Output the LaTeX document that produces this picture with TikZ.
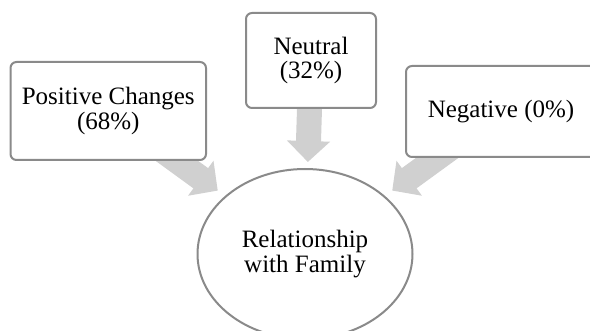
\documentclass[tikz,border=0pt]{standalone}
\usepackage{fontspec}
\setmainfont{Liberation Serif}
\usepackage{tikz}
\usetikzlibrary{arrows.meta,shapes.geometric,backgrounds}
\definecolor{RGray}{HTML}{8A8A8A}
\definecolor{RArrow}{HTML}{D0D0D0}

\begin{document}
\begin{tikzpicture}[
  x=1pt,y=-1pt,
  box/.style={draw=RGray,line width=2pt,rounded corners=6pt,fill=white,
    align=center,inner sep=0pt,font=\fontsize{25}{24.5}\selectfont},
  oval/.style={ellipse,draw=RGray,line width=2pt,fill=white,
    minimum width=215pt,minimum height=170pt,inner sep=0pt,
    align=center,font=\fontsize{25}{24.5}\selectfont},
  a/.style={-{Triangle[width=42pt,length=21pt]},line width=25pt,color=RArrow}
]
  \useasboundingbox (0,0) rectangle (590,331);
  \node[box,minimum width=195.5pt,minimum height=98pt] (pos) at (108.25,111)
    {Positive Changes\\(68\%)};
  \node[box,minimum width=130pt,minimum height=95pt] (neu) at (311,60.5)
    {Neutral\\(32\%)};
  \node[box,minimum width=190pt,minimum height=91pt] (neg) at (501,111.5)
    {Negative (0\%)};
  \node[oval] (rel) at (305,254) {Relationship\\with Family};
  \begin{pgfonlayer}{background}
    \draw[a,shorten >=9pt] (pos.center) -- (rel);
    \draw[a,shorten >=6pt] (neu.center) -- (rel);
    \draw[a,shorten >=9pt] (neg.center) -- (rel);
  \end{pgfonlayer}
\end{tikzpicture}
\end{document}
